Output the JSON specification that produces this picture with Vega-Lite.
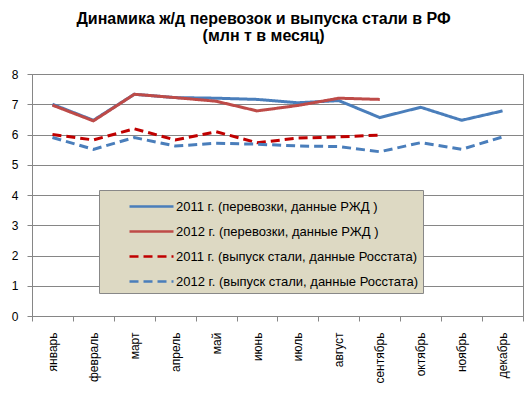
{
  "$schema": "https://vega.github.io/schema/vega-lite/v6.json",
  "width": 491,
  "height": 242,
  "autosize": {"type": "none"},
  "padding": {"left": 32, "top": 74, "right": 4, "bottom": 82},
  "background": "white",
  "title": {
    "text": ["Динамика ж/д перевозок  и выпуска стали в РФ", "(млн т в месяц)"],
    "font": "Liberation Sans",
    "fontSize": 16,
    "fontWeight": "bold",
    "color": "#000000",
    "anchor": "middle",
    "dx": -14,
    "offset": 24,
    "lineHeight": 17
  },
  "data": {
    "values": [
      {"month": "январь", "series": "2011 г. (перевозки, данные РЖД )", "value": 7.0},
      {"month": "февраль", "series": "2011 г. (перевозки, данные РЖД )", "value": 6.47},
      {"month": "март", "series": "2011 г. (перевозки, данные РЖД )", "value": 7.33},
      {"month": "апрель", "series": "2011 г. (перевозки, данные РЖД )", "value": 7.22},
      {"month": "май", "series": "2011 г. (перевозки, данные РЖД )", "value": 7.2},
      {"month": "июнь", "series": "2011 г. (перевозки, данные РЖД )", "value": 7.16},
      {"month": "июль", "series": "2011 г. (перевозки, данные РЖД )", "value": 7.05},
      {"month": "август", "series": "2011 г. (перевозки, данные РЖД )", "value": 7.12},
      {"month": "сентябрь", "series": "2011 г. (перевозки, данные РЖД )", "value": 6.56},
      {"month": "октябрь", "series": "2011 г. (перевозки, данные РЖД )", "value": 6.9},
      {"month": "ноябрь", "series": "2011 г. (перевозки, данные РЖД )", "value": 6.47},
      {"month": "декабрь", "series": "2011 г. (перевозки, данные РЖД )", "value": 6.78},
      {"month": "январь", "series": "2012 г. (перевозки, данные РЖД )", "value": 6.97},
      {"month": "февраль", "series": "2012 г. (перевозки, данные РЖД )", "value": 6.45},
      {"month": "март", "series": "2012 г. (перевозки, данные РЖД )", "value": 7.33},
      {"month": "апрель", "series": "2012 г. (перевозки, данные РЖД )", "value": 7.22},
      {"month": "май", "series": "2012 г. (перевозки, данные РЖД )", "value": 7.1},
      {"month": "июнь", "series": "2012 г. (перевозки, данные РЖД )", "value": 6.78},
      {"month": "июль", "series": "2012 г. (перевозки, данные РЖД )", "value": 6.96},
      {"month": "август", "series": "2012 г. (перевозки, данные РЖД )", "value": 7.2},
      {"month": "сентябрь", "series": "2012 г. (перевозки, данные РЖД )", "value": 7.16},
      {"month": "январь", "series": "2011 г. (выпуск стали, данные Росстата)", "value": 6.0},
      {"month": "февраль", "series": "2011 г. (выпуск стали, данные Росстата)", "value": 5.82},
      {"month": "март", "series": "2011 г. (выпуск стали, данные Росстата)", "value": 6.19},
      {"month": "апрель", "series": "2011 г. (выпуск стали, данные Росстата)", "value": 5.82},
      {"month": "май", "series": "2011 г. (выпуск стали, данные Росстата)", "value": 6.09},
      {"month": "июнь", "series": "2011 г. (выпуск стали, данные Росстата)", "value": 5.73},
      {"month": "июль", "series": "2011 г. (выпуск стали, данные Росстата)", "value": 5.88},
      {"month": "август", "series": "2011 г. (выпуск стали, данные Росстата)", "value": 5.92},
      {"month": "сентябрь", "series": "2011 г. (выпуск стали, данные Росстата)", "value": 5.98},
      {"month": "январь", "series": "2012 г. (выпуск стали, данные Росстата)", "value": 5.9},
      {"month": "февраль", "series": "2012 г. (выпуск стали, данные Росстата)", "value": 5.51},
      {"month": "март", "series": "2012 г. (выпуск стали, данные Росстата)", "value": 5.9},
      {"month": "апрель", "series": "2012 г. (выпуск стали, данные Росстата)", "value": 5.62},
      {"month": "май", "series": "2012 г. (выпуск стали, данные Росстата)", "value": 5.71},
      {"month": "июнь", "series": "2012 г. (выпуск стали, данные Росстата)", "value": 5.68},
      {"month": "июль", "series": "2012 г. (выпуск стали, данные Росстата)", "value": 5.62},
      {"month": "август", "series": "2012 г. (выпуск стали, данные Росстата)", "value": 5.6},
      {"month": "сентябрь", "series": "2012 г. (выпуск стали, данные Росстата)", "value": 5.43},
      {"month": "октябрь", "series": "2012 г. (выпуск стали, данные Росстата)", "value": 5.73},
      {"month": "ноябрь", "series": "2012 г. (выпуск стали, данные Росстата)", "value": 5.51},
      {"month": "декабрь", "series": "2012 г. (выпуск стали, данные Росстата)", "value": 5.92}
    ]
  },
  "mark": {"type": "line", "strokeWidth": 3},
  "encoding": {
    "x": {
      "field": "month",
      "type": "ordinal",
      "sort": ["январь", "февраль", "март", "апрель", "май", "июнь", "июль", "август", "сентябрь", "октябрь", "ноябрь", "декабрь"],
      "scale": {"type": "band", "paddingInner": 0, "paddingOuter": 0},
      "bandPosition": 0.5,
      "axis": {
        "title": null,
        "grid": false,
        "domainColor": "#868686",
        "tickColor": "#868686",
        "tickSize": 5,
        "tickBand": "extent",
        "labelAngle": 270,
        "labelAlign": "right",
        "labelBaseline": "middle",
        "labelPadding": 11,
        "labelFont": "Liberation Sans",
        "labelFontSize": 12,
        "labelColor": "#000000"
      }
    },
    "y": {
      "field": "value",
      "type": "quantitative",
      "scale": {"domain": [0, 8], "nice": false},
      "axis": {
        "title": null,
        "values": [0, 1, 2, 3, 4, 5, 6, 7, 8],
        "grid": true,
        "gridColor": "#868686",
        "domainColor": "#868686",
        "tickColor": "#868686",
        "tickSize": 5,
        "labelPadding": 9,
        "labelFont": "Liberation Sans",
        "labelFontSize": 12,
        "labelColor": "#000000"
      }
    },
    "color": {
      "field": "series",
      "type": "nominal",
      "scale": {
        "domain": ["2011 г. (перевозки, данные РЖД )", "2012 г. (перевозки, данные РЖД )", "2011 г. (выпуск стали, данные Росстата)", "2012 г. (выпуск стали, данные Росстата)"],
        "range": ["#4A7EBB", "#BE4B48", "#C00000", "#4A7EBB"]
      },
      "legend": {"title": null, "orient": "none", "legendX": 67, "legendY": 116, "labelExpr": "datum.label + '\u00a0\u00a0\u00a0\u00a0\u00a0\u00a0\u00a0'"}
    },
    "strokeDash": {
      "field": "series",
      "type": "nominal",
      "scale": {
        "domain": ["2011 г. (перевозки, данные РЖД )", "2012 г. (перевозки, данные РЖД )", "2011 г. (выпуск стали, данные Росстата)", "2012 г. (выпуск стали, данные Росстата)"],
        "range": [[1, 0], [1, 0], [9, 5], [9, 5]]
      },
      "legend": {"title": null, "orient": "none", "legendX": 67, "legendY": 116, "labelExpr": "datum.label + '\u00a0\u00a0\u00a0\u00a0\u00a0\u00a0\u00a0'"}
    }
  },
  "config": {
    "view": {"stroke": "#868686", "strokeWidth": 1},
    "legend": {
      "fillColor": "#DDD9C3",
      "strokeColor": "#888888",
      "padding": 4,
      "symbolType": "M-2,0H2",
      "symbolSize": 484,
      "symbolStrokeWidth": 2.5,
      "symbolOffset": 36,
      "labelOffset": 12,
      "labelFont": "Liberation Sans",
      "labelFontSize": 13,
      "labelColor": "#000000",
      "rowPadding": 5,
      "labelLimit": 450
    }
  }
}
